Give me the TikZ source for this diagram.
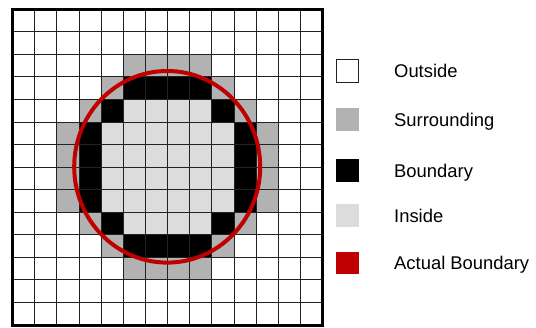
\documentclass[tikz,border=0pt]{standalone}
\usepackage{fontspec}
\setmainfont{Liberation Sans}
\definecolor{surr}{RGB}{178,178,178}
\definecolor{insd}{RGB}{220,220,220}
\definecolor{actred}{RGB}{192,0,0}
\definecolor{gline}{RGB}{34,34,34}
\begin{document}
\begin{tikzpicture}[x=1pt,y=-1pt,
  legbox/.style={minimum width=22.7pt,minimum height=22.7pt,inner sep=0pt,outer sep=0pt},
  legtext/.style={anchor=base west,inner sep=0pt,font=\fontsize{18.4}{22}\selectfont},
  gridline/.style={gline,line width=1pt},
  frame/.style={black,line width=3pt},
  actual/.style={actred,line width=4pt}]
\useasboundingbox (0,0) rectangle (536,327);
\fill[white] (0,0) rectangle (536,327);
\def\xo{12.7}\def\yo{9.3}\def\cw{22.143}\def\ch{22.55}
\newcommand{\mycell}[3]{\fill[#3] ({\xo+#1*\cw},{\yo+#2*\ch}) rectangle ++(\cw,\ch);}
% surrounding
\foreach \c in {5,...,8}{\mycell{\c}{2}{surr}\mycell{\c}{11}{surr}}
\foreach \r in {5,...,8}{\mycell{2}{\r}{surr}\mycell{11}{\r}{surr}}
\mycell{4}{3}{surr}\mycell{9}{3}{surr}\mycell{4}{10}{surr}\mycell{9}{10}{surr}
\mycell{3}{4}{surr}\mycell{10}{4}{surr}\mycell{3}{9}{surr}\mycell{10}{9}{surr}
% boundary
\foreach \c in {5,...,8}{\mycell{\c}{3}{black}\mycell{\c}{10}{black}}
\foreach \r in {5,...,8}{\mycell{3}{\r}{black}\mycell{10}{\r}{black}}
\mycell{4}{4}{black}\mycell{9}{4}{black}\mycell{4}{9}{black}\mycell{9}{9}{black}
% inside
\foreach \c in {5,...,8}{\mycell{\c}{4}{insd}\mycell{\c}{9}{insd}}
\foreach \c in {4,...,9}{\foreach \r in {5,...,8}{\mycell{\c}{\r}{insd}}}
% grid lines
\foreach \i in {1,...,13}{
  \draw[gridline] ({\xo+\i*\cw},\yo) -- ({\xo+\i*\cw},{\yo+14*\ch});
  \draw[gridline] (\xo,{\yo+\i*\ch}) -- ({\xo+14*\cw},{\yo+\i*\ch});
}
\draw[frame] (\xo,\yo) rectangle ({\xo+14*\cw},{\yo+14*\ch});
% actual boundary
\draw[actual] (167.2,166.8) ellipse [x radius=93, y radius=95.8];
% legend
\node[legbox,draw=gline,line width=0.8pt,fill=white] (l1) at (347.4,70.8) {};
\node[legbox,fill=surr] (l2) at (347.4,119.2) {};
\node[legbox,fill=black] (l3) at (347.4,170.3) {};
\node[legbox,fill=insd] (l4) at (347.4,215.3) {};
\node[legbox,fill=actred] (l5) at (347.4,263) {};
\node[legtext] (t1) at (394,77.6) {Outside};
\node[legtext] (t2) at (394,126) {Surrounding};
\node[legtext] (t3) at (394,177.1) {Boundary};
\node[legtext] (t4) at (394,222.1) {Inside};
\node[legtext] (t5) at (394,269.8) {Actual Boundary};
\end{tikzpicture}
\end{document}
